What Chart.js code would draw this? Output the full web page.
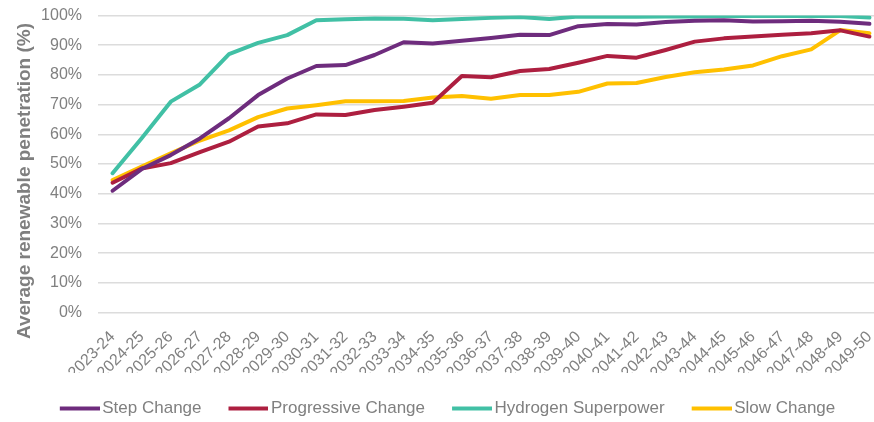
<!DOCTYPE html>
<html>
<head>
<meta charset="utf-8">
<script src="https://cdn.jsdelivr.net/npm/chart.js@4/dist/chart.umd.min.js"></script>
<style>
  html, body { margin: 0; padding: 0; background: #ffffff; overflow: hidden; }
  #wrap { width: 874px; height: 422px; overflow: hidden; position: relative; }
  canvas { display: block; }
</style>
</head>
<body>
<div id="wrap"><canvas id="chart" width="884" height="427" style="width:884px;height:427px"></canvas></div>
<script>
// Financial years on the horizontal axis
const years = [
  '2023-24', '2024-25', '2025-26', '2026-27', '2027-28', '2028-29', '2029-30',
  '2030-31', '2031-32', '2032-33', '2033-34', '2034-35', '2035-36', '2036-37',
  '2037-38', '2038-39', '2039-40', '2040-41', '2041-42', '2042-43', '2043-44',
  '2044-45', '2045-46', '2046-47', '2047-48', '2048-49', '2049-50'
];

// Average renewable penetration (%) per scenario
const stepChange = [
  41.0, 48.3, 53.0, 58.6, 65.4, 73.2, 78.8, 83.0, 83.3, 86.7, 91.0, 90.6, 91.5, 92.4,
  93.5, 93.4, 96.4, 97.1, 97.0, 97.8, 98.2, 98.4, 98.0, 98.1, 98.2, 97.9, 97.2
];
const progressiveChange = [
  43.7, 48.5, 50.3, 54.0, 57.5, 62.6, 63.7, 66.7, 66.5, 68.2, 69.3, 70.6, 79.6, 79.2,
  81.3, 82.0, 84.1, 86.4, 85.8, 88.4, 91.2, 92.3, 92.9, 93.5, 94.0, 95.0, 92.9
];
const hydrogenSuperpower = [
  46.9, 58.7, 71.0, 76.8, 87.0, 90.8, 93.4, 98.4, 98.7, 99.0, 98.9, 98.4, 98.8, 99.2,
  99.5, 98.8, 99.7, 99.6, 99.6, 99.7, 99.7, 99.8, 99.8, 99.8, 99.8, 99.8, 99.3
];
const slowChange = [
  44.6, 49.1, 53.6, 57.9, 61.3, 65.8, 68.7, 69.8, 71.1, 71.1, 71.2, 72.4, 72.9, 72.0,
  73.2, 73.2, 74.3, 77.1, 77.3, 79.3, 80.9, 81.8, 83.2, 86.3, 88.6, 95.1, 94.0
];

const seriesNames = ['Step Change', 'Progressive Change', 'Hydrogen Superpower', 'Slow Change'];
const axisTitle = 'Average renewable penetration (%)';

const colours = ['#6e2c7d', '#ad1f40', '#41c0a5', '#ffc000'];
const textGrey = '#808080';
const fontFamily = '"Liberation Sans", Arial, sans-serif';

// Short line marker used as the legend symbol
function legendLine(colour) {
  const c = document.createElement('canvas');
  c.width = 46;
  c.height = 6;
  const g = c.getContext('2d');
  g.strokeStyle = colour;
  g.lineWidth = 4;
  g.beginPath();
  g.moveTo(6, 3);
  g.lineTo(46, 3);
  g.stroke();
  return c;
}

// Vertical axis title, centred a little below the middle of the plot
const yTitle = {
  id: 'yTitle',
  afterDraw(chart) {
    const { ctx, chartArea } = chart;
    ctx.save();
    ctx.font = 'bold 19px ' + fontFamily;
    ctx.fillStyle = '#7f7f7f';
    ctx.textAlign = 'center';
    ctx.textBaseline = 'middle';
    ctx.translate(25, (chartArea.top + chartArea.bottom) / 2 + 17);
    ctx.rotate(-Math.PI / 2);
    ctx.fillText(axisTitle, 0, 0);
    ctx.restore();
  }
};

const allSeries = [stepChange, progressiveChange, hydrogenSuperpower, slowChange];
const padLeft = 11;

Chart.defaults.font.family = fontFamily;

new Chart(document.getElementById('chart'), {
  type: 'line',
  data: {
    labels: years,
    datasets: allSeries.map((values, i) => ({
      label: seriesNames[i],
      data: values,
      borderColor: colours[i],
      backgroundColor: colours[i],
      borderWidth: 4,
      tension: 0,
      pointRadius: 0,
      pointHoverRadius: 0,
      pointStyle: legendLine(colours[i]),
      borderJoinStyle: 'round',
      borderCapStyle: 'round',
      fill: false
    }))
  },
  options: {
    responsive: false,
    animation: false,
    devicePixelRatio: 1,
    layout: { padding: { left: padLeft, right: 0, top: 0, bottom: 0 } },
    plugins: {
      legend: {
        position: 'bottom',
        labels: {
          usePointStyle: true,
          pointStyleWidth: 34,
          padding: 27,
          color: textGrey,
          font: { size: 17 }
        }
      },
      tooltip: { enabled: false }
    },
    scales: {
      x: {
        offset: true,
        grid: { display: false, drawTicks: false },
        border: { display: false },
        ticks: {
          autoSkip: false,
          minRotation: 45,
          maxRotation: 45,
          padding: 15,
          color: textGrey,
          font: { size: 16 }
        },
        afterFit(scale) {
          scale.height = 60.5;
          scale.paddingTop = 0;
          scale.paddingLeft = 0;
          scale.paddingRight = 0;
        }
      },
      y: {
        min: 0,
        max: 100,
        grid: { color: '#dcdcdc', lineWidth: 1.5, drawTicks: false },
        border: { display: false },
        ticks: {
          stepSize: 10,
          padding: 16,
          color: textGrey,
          font: { size: 16 },
          callback: v => v + '%'
        },
        afterFit(scale) {
          scale.width = 98 - padLeft;
          scale.paddingTop = 15.5;
        }
      }
    }
  },
  plugins: [yTitle]
});
</script>
</body>
</html>
